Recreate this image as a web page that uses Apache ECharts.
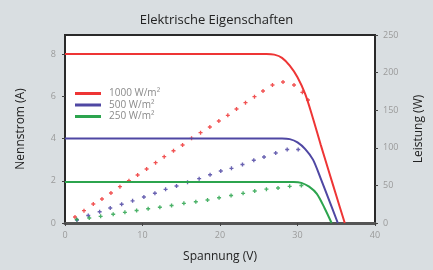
<!DOCTYPE html>
<html><head><meta charset="utf-8">
<script src="https://cdn.jsdelivr.net/npm/echarts@6/dist/echarts.min.js"></script>
<style>html,body{margin:0;padding:0;background:#d9dee1;}#c{width:433px;height:270px;}</style>
</head><body><div id="c"></div>
<script>
const titleText = 'Elektrische Eigenschaften';
const xName = 'Spannung (V)';
const yLeftName = 'Nennstrom (A)';
const yRightName = 'Leistung (W)';
const legendNames = ['1000 W/m²', '500 W/m²', '250 W/m²'];
const xTicks = [0, 10, 20, 30, 40];
const leftTicks = [0, 2, 4, 6, 8];
const rightTicks = [0, 50, 100, 150, 200, 250];

// Current (A) vs voltage (V)
const current1000 = [[0,8],[26,8],[27,7.97],[28,7.82],[29,7.45],[30,6.9],[31,6.1],[32,4.95],[33,3.7],[34,2.5],[35,1.3],[36.1,0]];
const current500 = [[0,4],[28,4],[29,3.97],[30,3.82],[31,3.5],[32,3.0],[33,2.1],[34,1.15],[35.2,0]];
const current250 = [[0,1.94],[29.5,1.94],[30.5,1.9],[31.5,1.72],[32.5,1.38],[33.5,0.7],[34.4,0]];

// Power (W) vs voltage (V)
const power1000 = [[1.29,8],[2.45,16.4],[3.65,25.3],[4.77,31.9],[5.93,39.9],[7.09,48.3],[8.25,56.3],[9.37,63.8],[10.53,71.8],[11.69,80.2],[12.8,88.2],[14.0,96.1],[15.17,103.7],[16.33,112.6],[17.49,120.1],[18.69,127.7],[19.85,135.6],[21.01,143.2],[22.13,151.6],[23.29,160],[24.45,168],[25.55,175.5],[26.77,183.5],[28.13,187.5],[29.55,183.5],[30.63,173.8],[31.35,163.6]];
const power500 = [[1.55,4.0],[3.0,10.0],[4.47,15.0],[5.84,19.9],[7.31,24.9],[8.72,29.5],[10.18,34.6],[11.6,39.6],[12.98,44.8],[14.39,49.2],[15.81,54.1],[17.31,58.9],[18.72,64.2],[20.1,69.1],[21.48,72.7],[22.9,77.8],[24.36,83.4],[25.68,87.8],[27.19,93.1],[28.67,97.7],[30.09,97.7]];
const power250 = [[1.51,4.7],[3.13,6.6],[4.6,8.9],[6.22,11.6],[7.73,14.2],[9.24,16.6],[10.73,19.0],[12.24,20.9],[13.75,23.3],[15.34,26.2],[16.88,28.3],[18.39,30.6],[19.88,33.6],[21.43,36.6],[22.98,39.5],[24.48,42.6],[25.99,45.0],[27.49,46.5],[28.99,48.8],[30.5,49.9]];

const colors = ['#ee3535', '#4f47a3', '#2ca44e'];
const FONT = 'Open Sans';
const plus = 'path://M1,0H2V1H3V2H2V3H1V2H0V1H1Z';

const chart = echarts.init(document.getElementById('c'), null, {renderer: 'canvas'});
function lineSeries(name, data, color) {
  return {name, type: 'line', data, yAxisIndex: 0, showSymbol: false, smooth: 0.3,
    lineStyle: {color, width: 2}, itemStyle: {color}, z: 3};
}
function dotSeries(name, data, color) {
  return {name, type: 'scatter', data, yAxisIndex: 1, symbol: plus, symbolSize: 4,
    itemStyle: {color, opacity: 0.85}, z: 2};
}
chart.setOption({
  backgroundColor: '#d9dee1',
  animation: false,
  textStyle: {fontFamily: FONT},
  title: {text: titleText, left: 'center', top: 9,
    textStyle: {fontFamily: FONT, fontSize: 13, fontWeight: 'normal', color: '#222'}},
  grid: {left: 65, right: 57, top: 35, bottom: 47, show: true, backgroundColor: '#fff',
    borderColor: '#2a2a2a', borderWidth: 2},
  legend: {data: legendNames, orient: 'vertical', left: 75, top: 88, itemWidth: 26, itemHeight: 3,
    itemGap: 0.5, icon: 'rect', padding: 0,
    textStyle: {fontFamily: FONT, fontSize: 10, lineHeight: 11, color: '#8a8a8a', padding: [0,0,0,3]}},
  xAxis: {type: 'value', min: 0, max: 40, interval: 10, name: xName, nameLocation: 'middle', nameGap: 28,
      nameTextStyle: {fontFamily: FONT, fontSize: 12, color: '#222'},
      axisLine: {onZero: false, lineStyle: {color: '#555', width: 3}},
      axisTick: {show: true, length: 3, lineStyle: {color: '#444'}},
      axisLabel: {margin: 8, fontSize: 9, color: '#9a9a9a', fontFamily: FONT,
        formatter: v => xTicks.includes(v) ? String(v) : ''},
      splitLine: {show: false}},
  yAxis: [
    {type: 'value', min: 0, max: 8.9, interval: 2, name: yLeftName, nameLocation: 'middle', nameGap: 38,
      nameTextStyle: {fontFamily: FONT, fontSize: 12, color: '#222'},
      axisLine: {show: true, onZero: false, lineStyle: {color: '#2a2a2a', width: 2}},
      axisTick: {show: true, length: 3, customValues: leftTicks, lineStyle: {color: '#444'}},
      axisLabel: {margin: 9, fontSize: 9, color: '#9a9a9a', fontFamily: FONT, customValues: leftTicks,
        formatter: v => leftTicks.includes(v) ? String(v) : ''},
      splitLine: {show: false}},
    {type: 'value', min: 0, max: 250, interval: 50, position: 'right', name: yRightName, nameLocation: 'middle', nameGap: 38,
      nameTextStyle: {fontFamily: FONT, fontSize: 12, color: '#222'},
      axisLine: {show: true, onZero: false, lineStyle: {color: '#2a2a2a', width: 2}},
      axisTick: {show: true, length: 3, lineStyle: {color: '#444'}},
      axisLabel: {margin: 8, fontSize: 9, color: '#9a9a9a', fontFamily: FONT,
        formatter: v => rightTicks.includes(v) ? String(v) : ''},
      splitLine: {show: false}}
  ],
  series: [
    dotSeries('P1000', power1000, colors[0]),
    dotSeries('P500', power500, colors[1]),
    dotSeries('P250', power250, colors[2]),
    lineSeries(legendNames[0], current1000, colors[0]),
    lineSeries(legendNames[1], current500, colors[1]),
    lineSeries(legendNames[2], current250, colors[2])
  ]
});
// Dark top frame line, positioned via the chart's own scales
const pL = chart.convertToPixel({xAxisIndex: 0, yAxisIndex: 1}, [0, 250]);
const pR = chart.convertToPixel({xAxisIndex: 0, yAxisIndex: 1}, [40, 250]);
chart.setOption({graphic: [{type: 'line', z: 10,
  shape: {x1: pL[0], y1: pL[1], x2: pR[0], y2: pR[1]},
  style: {stroke: '#2a2a2a', lineWidth: 2}}]});
</script></body></html>
